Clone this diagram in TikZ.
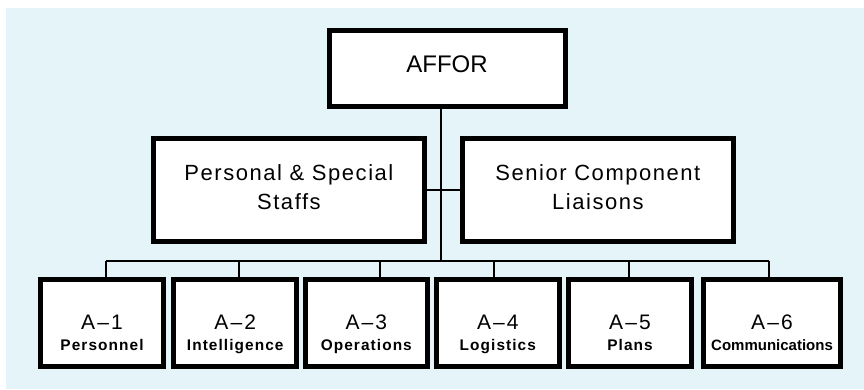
\documentclass[tikz,border=0pt]{standalone}
\usepackage{fontspec}
\setmainfont{Liberation Sans}
\newfontfamily\trackedsans[LetterSpace=7]{Liberation Sans}
\newfontfamily\widesans[LetterSpace=10]{Liberation Sans}
\definecolor{bgblue}{HTML}{E4F4F9}
\begin{document}
\begin{tikzpicture}[x=1pt,y=-1pt,
  box/.style={draw=black, line width=5pt, fill=white, inner sep=0pt},
  topbox/.style={box, minimum width=236pt, minimum height=75.4pt, text height=8.4pt, text depth=0pt, font=\fontsize{24}{28}\selectfont},
  midbox/.style={box, minimum width=270.7pt, minimum height=103pt, text height=0pt, text depth=20pt, font=\trackedsans\fontsize{22}{29}\selectfont},
  lowbox/.style={box, minimum width=122.5pt, minimum height=87.6pt, text height=12pt, text depth=0pt, font=\fontsize{21}{21.7}\selectfont},
  subt/.style={},
  conn/.style={line width=2pt, draw=black}
]
\useasboundingbox (0,0) rectangle (864,389);
\fill[bgblue] (6,8) rectangle (864,389);

\newcommand{\lowtext}[2]{\begin{tabular}[t]{@{}c@{}}\widesans #1\\ \trackedsans\bfseries\fontsize{15.4}{18}\selectfont #2\end{tabular}}

\node[topbox] (affor) at (447,68.5) {AFFOR};
\node[midbox] (ps) at (288.9,190) {\begin{tabular}[t]{@{}c@{}}Personal \& Special\\Staffs\end{tabular}};
\node[midbox] (sc) at (597.9,190) {\begin{tabular}[t]{@{}c@{}}Senior Component\\Liaisons\end{tabular}};

\node[lowbox] (a1) at (102,323) {\lowtext{A–1}{Personnel}};
\node[lowbox] (a2) at (235.2,323) {\lowtext{A–2}{Intelligence}};
\node[lowbox] (a3) at (366.3,323) {\lowtext{A–3}{Operations}};
\node[lowbox] (a4) at (497.8,323) {\lowtext{A–4}{Logistics}};
\node[lowbox] (a5) at (630,323) {\lowtext{A–5}{Plans}};
\node[lowbox, minimum width=137.6pt] (a6) at (772,323) {\begin{tabular}[t]{@{}c@{}}\widesans A–6\\ \bfseries\fontsize{15}{18}\selectfont Communications\end{tabular}};

\coordinate (trunk) at (440.7,260.7);
\coordinate (d1) at (106,260.7);
\coordinate (d2) at (238.7,260.7);
\coordinate (d3) at (380,260.7);
\coordinate (d4) at (494,260.7);
\coordinate (d5) at (629.3,260.7);
\coordinate (d6) at (769,260.7);

\draw[conn] (affor.south -| trunk) -- (trunk);
\draw[conn] (ps.east) -- (sc.west);
\draw[conn] (d1) -- (d6);
\draw[conn] (d1) -- (d1 |- a1.north);
\draw[conn] (d2) -- (d2 |- a2.north);
\draw[conn] (d3) -- (d3 |- a3.north);
\draw[conn] (d4) -- (d4 |- a4.north);
\draw[conn] (d5) -- (d5 |- a5.north);
\draw[conn] (d6) -- (d6 |- a6.north);
\end{tikzpicture}
\end{document}
